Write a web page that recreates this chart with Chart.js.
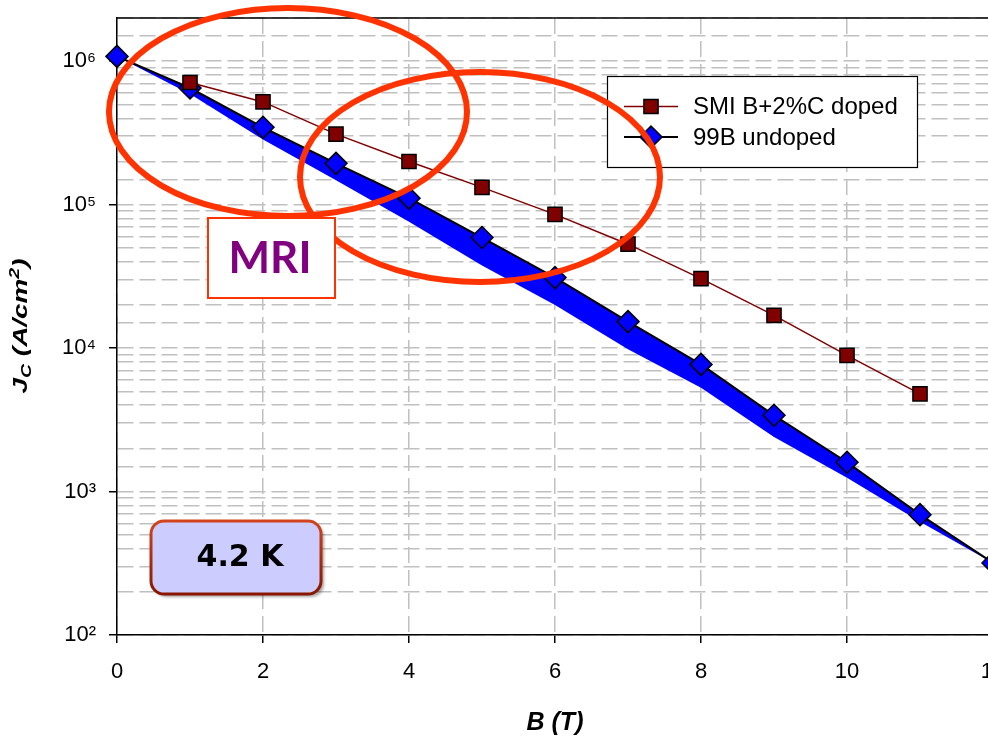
<!DOCTYPE html>
<html>
<head>
<meta charset="utf-8">
<title>Jc vs B, 4.2 K</title>
<script src="https://cdn.jsdelivr.net/npm/chart.js@4.4.1/dist/chart.umd.min.js"></script>
<style>
  html, body { margin: 0; padding: 0; background: #fff; overflow: hidden; }
  #wrap { width: 1010px; height: 738px; }
</style>
</head>
<body>
<div id="wrap"><canvas id="grafico" width="1010" height="738"></canvas></div>
<script>
// field B (T)
var fieldUndoped = [0, 1, 2, 3, 4, 5, 6, 7, 8, 9, 10, 11, 12];
var fieldDoped = [1, 2, 3, 4, 5, 6, 7, 8, 9, 10, 11];

// Jc (A/cm2)
var jcUndoped = [1.08e6, 6.5e5, 3.46e5, 1.94e5, 1.11e5, 5.9e4, 3.1e4, 1.53e4, 7.7e3, 3.4e3, 1.6e3, 690, 318];
var jcUndopedLow = [1.08e6, 5.9e5, 2.85e5, 1.48e5, 7.6e4, 3.77e4, 2.0e4, 9.8e3, 5.3e3, 2.4e3, 1.25e3, 615, 318];
var jcDoped = [7.1e5, 5.2e5, 3.1e5, 2.0e5, 1.32e5, 8.55e4, 5.3e4, 3.05e4, 1.69e4, 8.9e3, 4.8e3];

var seriesNames = ['SMI B+2%C doped', '99B undoped'];
var xTicks = [0, 2, 4, 6, 8, 10, 12];
var yDecades = [2, 3, 4, 5, 6];

var FONT = '"Liberation Sans", Arial, sans-serif';
var SUP = ['\u2070', '\u00b9', '\u00b2', '\u00b3', '\u2074', '\u2075', '\u2076', '\u2077', '\u2078', '\u2079'];

function pts(xs, ys) {
    var out = [];
    for (var i = 0; i < xs.length; i++) {
        out.push({ x: xs[i], y: ys[i] });
    }
    return out;
}

function isDecade(v) {
    var e = Math.log10(v);
    return Math.abs(e - Math.round(e)) < 1e-6;
}

// extra drawing: frame top, legend, ellipses, text boxes, y title
var extras = {
    id: 'extras',
    afterDraw: function(chart) {
        var ctx = chart.ctx;
        var a = chart.chartArea;
        var ds = chart.data.datasets;
        ctx.save();

        // top frame line
        ctx.strokeStyle = '#000';
        ctx.lineWidth = 1.5;
        ctx.setLineDash([]);
        ctx.beginPath();
        ctx.moveTo(a.left, a.top);
        ctx.lineTo(a.right, a.top);
        ctx.stroke();

        // legend box
        ctx.fillStyle = '#fff';
        ctx.fillRect(607, 76, 310, 91);
        ctx.strokeStyle = '#000';
        ctx.lineWidth = 1.2;
        ctx.strokeRect(607.5, 76.5, 310, 91);
        var rows = [106.5, 137];
        for (var i = 0; i < 2; i++) {
            var d = ds[i];
            ctx.strokeStyle = d.borderColor;
            ctx.lineWidth = d.borderWidth;
            ctx.beginPath();
            ctx.moveTo(624, rows[i]);
            ctx.lineTo(678, rows[i]);
            ctx.stroke();
            ctx.fillStyle = d.pointBackgroundColor;
            ctx.strokeStyle = d.pointBorderColor;
            ctx.lineWidth = d.pointBorderWidth;
            Chart.helpers.drawPoint(ctx, {
                pointStyle: d.pointStyle, radius: d.pointRadius, rotation: 0, borderWidth: d.pointBorderWidth
            }, 651, rows[i]);
            ctx.fillStyle = '#000';
            ctx.font = '24px ' + FONT;
            ctx.textAlign = 'left';
            ctx.textBaseline = 'middle';
            ctx.fillText(seriesNames[i], 693, rows[i] + 1);
        }

        // red ellipses
        ctx.strokeStyle = '#ff3300';
        ctx.lineWidth = 6;
        ctx.beginPath();
        ctx.ellipse(288, 112, 179, 104, 0, 0, 2 * Math.PI);
        ctx.stroke();
        ctx.beginPath();
        ctx.ellipse(480, 177, 180, 105, 0, 0, 2 * Math.PI);
        ctx.stroke();

        // MRI box
        ctx.fillStyle = '#fff';
        ctx.fillRect(208, 218, 127, 80);
        ctx.strokeStyle = '#ff3300';
        ctx.lineWidth = 2;
        ctx.strokeRect(208, 218, 127, 80);
        ctx.fillStyle = '#800080';
        ctx.font = 'bold 44px Lato, sans-serif';
        ctx.textAlign = 'center';
        ctx.textBaseline = 'alphabetic';
        ctx.fillText('MRI', 270, 273);

        // 4.2 K box
        ctx.save();
        ctx.shadowColor = 'rgba(0,0,0,0.35)';
        ctx.shadowOffsetX = 3;
        ctx.shadowOffsetY = 3;
        ctx.shadowBlur = 3;
        ctx.beginPath();
        ctx.roundRect(151, 521, 170, 73, 13);
        ctx.fillStyle = '#ccccff';
        ctx.fill();
        ctx.restore();
        var g = ctx.createLinearGradient(0, 521, 0, 594);
        g.addColorStop(0, '#d2441c');
        g.addColorStop(1, '#8a1600');
        ctx.strokeStyle = g;
        ctx.lineWidth = 3;
        ctx.beginPath();
        ctx.roundRect(151, 521, 170, 73, 13);
        ctx.stroke();
        ctx.fillStyle = '#000';
        ctx.font = 'bold 30px "DejaVu Sans", Verdana, sans-serif';
        ctx.textAlign = 'center';
        ctx.fillText('4.2 K', 240, 566);

        // y axis title  Jc (A/cm2)
        var big = 'bold italic 20px ' + FONT;
        var small = 'bold italic 14px ' + FONT;
        var parts = [
            { t: 'J', f: big, dy: 0 },
            { t: 'C', f: small, dy: 4 },
            { t: ' (A/cm', f: big, dy: 0 },
            { t: '2', f: small, dy: -8 },
            { t: ')', f: big, dy: 0 }
        ];
        var total = 0;
        parts.forEach(function(p) { ctx.font = p.f; p.w = ctx.measureText(p.t).width; total += p.w; });
        ctx.translate(27, 326);
        ctx.rotate(-Math.PI / 2);
        ctx.scale(135 / total, 1);
        ctx.textAlign = 'left';
        ctx.textBaseline = 'alphabetic';
        var px = -total / 2;
        parts.forEach(function(p) {
            ctx.font = p.f;
            ctx.fillText(p.t, px, p.dy);
            px += p.w;
        });

        ctx.restore();
    }
};

var ctx1 = document.getElementById('grafico').getContext('2d');
var grafico = new Chart(ctx1, {
    type: 'line',
    data: {
        datasets: [{
            label: seriesNames[0],
            data: pts(fieldDoped, jcDoped),
            borderColor: '#800000',
            borderWidth: 1.5,
            pointStyle: 'rect',
            pointRadius: 10,
            pointBackgroundColor: '#800000',
            pointBorderColor: '#000',
            pointBorderWidth: 1.5,
            tension: 0,
            fill: false,
            clip: false
        }, {
            label: seriesNames[1],
            data: pts(fieldUndoped, jcUndoped),
            borderColor: '#000',
            borderWidth: 2,
            pointStyle: 'rectRot',
            pointRadius: 11,
            pointBackgroundColor: '#0000ff',
            pointBorderColor: '#000',
            pointBorderWidth: 1.5,
            tension: 0,
            fill: false,
            clip: false
        }, {
            label: 'band',
            data: pts(fieldUndoped, jcUndopedLow),
            borderWidth: 0,
            borderColor: 'rgba(0,0,0,0)',
            backgroundColor: '#0000ff',
            pointRadius: 0,
            tension: 0,
            fill: 1
        }]
    },
    options: {
        responsive: false,
        animation: false,
        events: [],
        layout: { autoPadding: false, padding: { top: 18, right: 17, left: 0, bottom: 0 } },
        plugins: {
            legend: { display: false },
            tooltip: { enabled: false },
            filler: { propagate: false }
        },
        scales: {
            x: {
                type: 'linear',
                min: 0,
                max: 12,
                afterFit: function(s) {
                    s.height = 103;
                    s.paddingLeft = 0;
                    s.paddingRight = 0;
                },
                afterBuildTicks: function(s) {
                    s.ticks = xTicks.map(function(v) { return { value: v }; });
                },
                ticks: { font: { size: 22, family: FONT }, color: '#000', padding: 16, maxRotation: 0 },
                grid: {
                    color: '#c0c0c0', lineWidth: 1.5,
                    tickLength: 8, tickColor: '#000', tickWidth: 1.5, tickBorderDash: []
                },
                border: { display: true, color: '#000', width: 1.5, dash: [16, 7] },
                title: {
                    display: true, text: 'B (T)', color: '#000',
                    font: { size: 25, weight: 'bold', style: 'italic', family: FONT },
                    padding: { top: 0, bottom: 0 }
                }
            },
            y: {
                type: 'logarithmic',
                min: 100,
                max: 2e6,
                afterFit: function(s) {
                    s.width = 117;
                    s.paddingTop = 0;
                    s.paddingBottom = 0;
                },
                ticks: {
                    autoSkip: false,
                    font: { size: 22, family: FONT },
                    color: '#000',
                    padding: 13,
                    callback: function(v) {
                        if (isDecade(v) && yDecades.indexOf(Math.round(Math.log10(v))) >= 0) {
                            return '10' + SUP[Math.round(Math.log10(v))];
                        }
                        return '';
                    }
                },
                grid: {
                    color: '#c0c0c0', lineWidth: 1.5,
                    tickLength: 8, tickWidth: 1.5, tickBorderDash: [],
                    tickColor: function(c) {
                        return c.tick && isDecade(c.tick.value) ? '#000' : 'rgba(0,0,0,0)';
                    }
                },
                border: { display: true, color: '#000', width: 1.5, dash: [16, 6] }
            }
        }
    },
    plugins: [extras]
});
</script>
</body>
</html>
